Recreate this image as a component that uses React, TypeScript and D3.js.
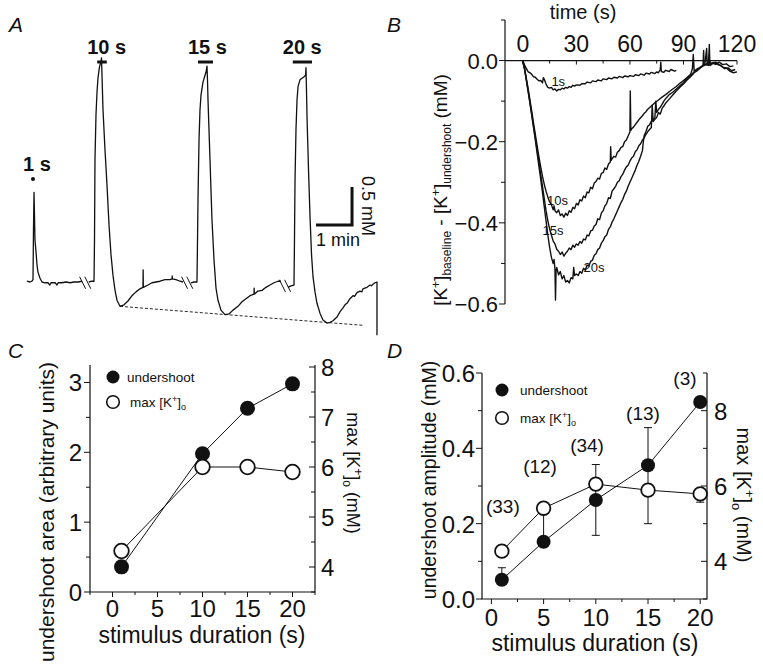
import React from "react";
import * as d3 from "d3";

const FONT = "'Liberation Sans', Arial, Helvetica, sans-serif";

// ---------------- Panel A : [K+]o trace (display time s, mM) ----------------
const traceA_1s: number[][] = [[0,3.01],[5,3.0],[8,3.01],[10,3.03],[10.8,3.68],[11.7,4.18],[12.5,3.88],[13.3,3.55],[15,3.4],[16.7,3.22],[18.3,3.13],[21.7,3.05],[25,3.0],[30,2.99],[35,2.99],[38,2.96],[40,2.99],[47,2.99],[50,2.96],[52,2.99],[58,2.99],[65,3.0],[72,2.99],[78,3.0],[85,3.0],[92,3.01]];
const traceA_10s: number[][] = [[103,3.0],[108,3.01],[111.7,3.01],[112.5,3.55],[113.3,4.61],[115,5.2],[116.7,5.5],[118.3,5.68],[120,5.79],[121.7,5.86],[123.3,5.89],[124.2,5.95],[125,5.72],[126.7,5.26],[130,4.74],[133.3,4.28],[136.7,3.75],[140,3.36],[143.3,3.09],[146.7,2.89],[150,2.76],[155,2.68],[161.7,2.7],[168.3,2.75],[175,2.82],[181.7,2.87],[188.3,2.91],[193.3,2.93],[193.6,3.16],[193.9,2.93],[201.7,2.96],[208.3,2.99],[215,3.0],[221.7,3.01],[230,3.03],[238.3,3.03],[241.7,3.04],[242,3.08],[242.3,3.04],[248.3,3.03],[255,3.01],[260,3.0]];
const traceA_15s: number[][] = [[273.3,2.99],[278.3,3.0],[283.3,3.0],[284.2,3.55],[285,4.08],[286.7,4.87],[288.3,5.26],[290,5.46],[293.3,5.63],[296.7,5.72],[298.3,5.76],[300,5.84],[300.8,5.66],[301.7,5.39],[305,4.61],[308.3,3.82],[311.7,3.29],[315,2.92],[318.3,2.76],[323.3,2.63],[330,2.57],[336.7,2.58],[343.3,2.63],[351.7,2.68],[358.3,2.74],[365,2.78],[371.7,2.82],[378.3,2.84],[378.6,2.92],[378.9,2.84],[385,2.88],[391.7,2.89],[398.3,2.93],[405,2.96],[411.7,2.99],[418.3,3.01],[423.3,3.01]];
const traceA_20s: number[][] = [[435,2.93],[440,2.95],[445,2.96],[445.8,3.55],[446.7,4.34],[448.3,5.0],[450,5.39],[451.7,5.57],[455,5.66],[458.3,5.68],[461.7,5.7],[464.2,5.72],[465,5.82],[465.8,5.53],[466.7,5.17],[469.2,4.47],[471.7,3.86],[474.2,3.36],[476.7,3.07],[480,2.87],[483.3,2.72],[488.3,2.59],[493.3,2.5],[500,2.46],[505,2.47],[510,2.49],[516.7,2.54],[521.7,2.61],[526.7,2.66],[530,2.7],[533.3,2.72],[538.3,2.78],[543.3,2.82],[546,2.81],[550,2.86],[555,2.88],[558,2.87],[560,2.91],[563,2.92],[566.7,2.93],[571.7,2.96],[574,2.95],[576.7,2.97],[580,2.99],[583.3,3.0],[583.3,2.3]];
const stimLabelsA = ["1 s", "10 s", "15 s", "20 s"];
const stimStartA = [10, 117, 285, 443];
const stimEndA = [10, 133, 310, 475];
const breaksA = [97, 267, 430];
const breakLevelA = [2.99, 2.99, 2.95];
const undershootBaselineA: number[][] = [[155, 2.68], [560, 2.43]];

// ---------------- Panel B : baseline-subtracted undershoots (s, mM) ----------------
const traceB_1s: number[][] = [[0,0],[1,-0.012],[2,-0.02],[3,-0.028],[4,-0.03],[5,-0.034],[6,-0.04],[7,-0.041],[8,-0.046],[9,-0.05],[10,-0.049],[11,-0.055],[11.5,-0.042],[12,-0.046],[13,-0.058],[14,-0.066],[15,-0.068],[16,-0.066],[17,-0.072],[18,-0.07],[19,-0.075],[20,-0.071],[21,-0.072],[22,-0.068],[23,-0.07],[24,-0.066],[25,-0.068],[26,-0.064],[27,-0.066],[28,-0.061],[29,-0.063],[30,-0.06],[32,-0.061],[33,-0.057],[35,-0.057],[36,-0.053],[38,-0.055],[39,-0.05],[41,-0.052],[42,-0.048],[44,-0.05],[45,-0.045],[47,-0.047],[48,-0.043],[50,-0.045],[51,-0.041],[53,-0.043],[54,-0.039],[56,-0.042],[57,-0.038],[59,-0.04],[60,-0.037],[62,-0.039],[63,-0.035],[65,-0.037],[66,-0.033],[68,-0.036],[69,-0.031],[71,-0.033],[72,-0.029],[74,-0.032],[75,-0.028],[76,-0.03],[77,-0.022],[77.3,-0.004],[77.6,-0.027],[79,-0.029],[80,-0.024],[82,-0.027],[83,-0.022],[85,-0.026],[86,-0.024]];
const traceB_10s: number[][] = [[0,0],[1,-0.02],[2,-0.045],[3,-0.07],[4,-0.098],[5,-0.125],[6,-0.155],[7,-0.182],[8,-0.21],[9,-0.237],[10,-0.262],[11,-0.285],[12,-0.305],[13,-0.322],[14,-0.336],[15,-0.348],[16,-0.355],[17,-0.368],[17.5,-0.358],[18,-0.37],[19,-0.375],[20,-0.368],[21,-0.382],[22,-0.378],[23,-0.386],[24,-0.376],[25,-0.382],[26,-0.37],[27,-0.374],[28,-0.362],[29,-0.365],[30,-0.352],[31,-0.356],[32,-0.343],[33,-0.346],[34,-0.334],[35,-0.338],[36,-0.324],[37,-0.326],[38,-0.312],[39,-0.316],[40,-0.302],[41,-0.298],[42,-0.29],[43,-0.292],[44,-0.278],[45,-0.276],[46,-0.265],[47,-0.268],[48,-0.255],[49,-0.25],[49.2,-0.212],[49.5,-0.246],[50,-0.242],[51,-0.236],[52,-0.238],[53,-0.226],[54,-0.222],[55,-0.214],[56,-0.212],[57,-0.2],[58,-0.196],[59,-0.186],[60,-0.176],[60.2,-0.075],[60.5,-0.172],[61,-0.168],[62,-0.164],[63,-0.158],[64,-0.152],[65,-0.146],[66,-0.141],[67,-0.136],[68,-0.13],[69,-0.126],[70,-0.12],[72,-0.112],[74,-0.104],[76,-0.097],[78,-0.09],[80,-0.084],[82,-0.077],[84,-0.07],[86,-0.064],[88,-0.056],[90,-0.049],[92,-0.042],[94,-0.034],[95,-0.02],[95.5,0.015],[96,-0.026],[98,-0.02],[100,-0.015],[102,-0.01],[104,-0.012],[106,-0.006],[108,-0.009],[110,-0.004],[112,-0.01],[114,-0.008],[116,-0.015],[118,-0.013]];
const traceB_15s: number[][] = [[0,0],[1,-0.022],[2,-0.048],[3,-0.075],[4,-0.103],[5,-0.132],[6,-0.162],[7,-0.19],[8,-0.22],[9,-0.25],[10,-0.28],[11,-0.31],[12,-0.34],[13,-0.37],[14,-0.395],[15,-0.415],[16,-0.43],[17,-0.445],[18,-0.452],[19,-0.465],[20,-0.47],[21,-0.478],[22,-0.472],[23,-0.482],[24,-0.475],[25,-0.47],[26,-0.462],[27,-0.466],[28,-0.455],[29,-0.46],[30,-0.452],[31,-0.455],[32,-0.446],[33,-0.45],[34,-0.44],[35,-0.442],[36,-0.43],[37,-0.432],[38,-0.42],[39,-0.418],[40,-0.408],[41,-0.404],[42,-0.39],[43,-0.392],[44,-0.376],[45,-0.37],[46,-0.358],[47,-0.352],[48,-0.338],[49,-0.34],[50,-0.322],[51,-0.316],[52,-0.31],[53,-0.3],[54,-0.296],[55,-0.286],[56,-0.28],[57,-0.27],[58,-0.262],[59,-0.258],[60,-0.248],[61,-0.24],[62,-0.236],[63,-0.225],[64,-0.22],[65,-0.21],[66,-0.205],[67,-0.196],[68,-0.19],[69,-0.182],[70,-0.175],[71,-0.17],[72,-0.165],[72.5,-0.11],[73,-0.15],[74,-0.145],[75,-0.14],[76,-0.128],[77,-0.132],[78,-0.118],[79,-0.112],[80,-0.105],[82,-0.095],[84,-0.085],[86,-0.075],[88,-0.066],[90,-0.058],[92,-0.048],[94,-0.04],[96,-0.03],[98,-0.024],[100,-0.016],[101,-0.01],[101.3,0.025],[101.6,-0.012],[103,-0.008],[105,-0.012],[107,-0.005],[109,-0.01],[111,-0.012],[113,-0.02],[115,-0.018],[117,-0.025],[119,-0.022]];
const traceB_20s: number[][] = [[0,0],[1,-0.022],[2,-0.05],[3,-0.078],[4,-0.106],[5,-0.136],[6,-0.166],[7,-0.196],[8,-0.228],[9,-0.26],[10,-0.292],[11,-0.325],[12,-0.36],[13,-0.395],[14,-0.43],[15,-0.46],[16,-0.485],[17,-0.5],[17.5,-0.49],[18,-0.515],[18.3,-0.59],[18.6,-0.52],[19,-0.51],[20,-0.528],[21,-0.52],[22,-0.538],[23,-0.53],[24,-0.546],[25,-0.542],[26,-0.548],[27,-0.535],[28,-0.538],[28.5,-0.51],[29,-0.53],[30,-0.526],[31,-0.53],[32,-0.52],[33,-0.524],[34,-0.512],[35,-0.516],[36,-0.504],[37,-0.506],[38,-0.495],[39,-0.492],[40,-0.48],[41,-0.476],[42,-0.466],[43,-0.462],[44,-0.45],[45,-0.444],[46,-0.434],[47,-0.43],[48,-0.416],[49,-0.41],[50,-0.398],[51,-0.39],[52,-0.38],[53,-0.37],[54,-0.36],[55,-0.35],[56,-0.342],[57,-0.33],[58,-0.322],[59,-0.31],[60,-0.3],[61,-0.29],[62,-0.28],[63,-0.27],[64,-0.258],[65,-0.248],[66,-0.236],[67,-0.222],[67.5,-0.2],[68,-0.185],[69,-0.175],[70,-0.162],[71,-0.158],[72,-0.15],[73,-0.146],[74,-0.14],[74.5,-0.1],[75,-0.128],[76,-0.12],[77,-0.115],[78,-0.108],[79,-0.1],[80,-0.094],[82,-0.084],[84,-0.078],[86,-0.07],[88,-0.062],[90,-0.054],[92,-0.044],[94,-0.036],[96,-0.028],[98,-0.022],[100,-0.016],[102,-0.01],[103,0.03],[103.3,-0.01],[104,-0.008],[104.5,0.04],[104.8,-0.008],[106,-0.006],[108,-0.004],[110,-0.01],[112,-0.016],[114,-0.018],[116,-0.026],[118,-0.03],[120,-0.028]];
const labelsB = ["1s", "10s", "15s", "20s"];
const labelPosB: number[][] = [[16, -0.062], [13.5, -0.355], [11, -0.43], [34, -0.522]];
const ticksBX = [0, 30, 60, 90, 120];
const minorBX = [15, 45, 75, 105];
const ticksBY = [0, -0.2, -0.4, -0.6];
const minorBY = [0.1, -0.1, -0.3, -0.5];

// ---------------- Panel C ----------------
const durC = [1, 10, 15, 20];
const undershootAreaC = [0.36, 1.98, 2.63, 2.98];
const maxKC = [4.32, 6.0, 6.0, 5.9];
const ticksCX = [0, 5, 10, 15, 20];
const minorCX = [-2.5, 2.5, 7.5, 12.5, 17.5, 22.5];
const ticksCL = [0, 1, 2, 3];
const minorCL = [0.5, 1.5, 2.5];
const ticksCR = [4, 5, 6, 7, 8];
const minorCR = [3.5, 4.5, 5.5, 6.5, 7.5];

// ---------------- Panel D ----------------
const durD = [1, 5, 10, 15, 20];
const undershootAmpD = [0.051, 0.152, 0.263, 0.355, 0.523];
const undershootErrUpD = [0.032, 0.075, 0.094, 0.1, 0];
const undershootErrDownD = [0, 0, 0.094, 0.155, 0];
const maxKD = [4.27, 5.41, 6.05, 5.89, 5.79];
const maxKErrDownD = [0, 0, 0, 0, 0.22];
const nLabelsD = ["(33)", "(12)", "(34)", "(13)", "(3)"];
const nLabelPosD: number[][] = [[1.1, 0.228], [4.66, 0.334], [9.16, 0.39], [14.52, 0.475], [18.54, 0.568]];
const ticksDX = [0, 5, 10, 15, 20];
const minorDX = [2.5, 7.5, 12.5, 17.5];
const ticksDL = [0, 0.2, 0.4, 0.6];
const minorDL = [0.1, 0.3, 0.5];
const ticksDR = [4, 6, 8];
const minorDR = [3, 5, 7, 9];

type Sc = d3.ScaleLinear<number, number>;

function KLabel({ size, sub, tail }: { size: number; sub: number; tail?: string }) {
  return (
    <>
      {"max [K"}
      <tspan fontSize={sub} dy={-size * 0.38}>+</tspan>
      <tspan dy={size * 0.38}>]</tspan>
      <tspan fontSize={sub} dy={size * 0.25}>o</tspan>
      {tail ? <tspan dy={-size * 0.25}>{tail}</tspan> : null}
    </>
  );
}

export default function App() {
  // scales
  const xA = d3.scaleLinear().domain([0, 600]).range([27, 387]);
  const yA = d3.scaleLinear().domain([2.5, 6]).range([320, 54]);
  const xB = d3.scaleLinear().domain([-10, 120]).range([505, 737]);
  const yB = d3.scaleLinear().domain([-0.6, 0.1]).range([304, 20]);
  const xC = d3.scaleLinear().domain([-2.5, 22.5]).range([90, 315]);
  const yCL = d3.scaleLinear().domain([0, 3.25]).range([592, 365]);
  const yCR = d3.scaleLinear().domain([3.5, 8.04]).range([592, 365]);
  const xD = d3.scaleLinear().domain([-0.9, 20.65]).range([482, 707]);
  const yDL = d3.scaleLinear().domain([0, 0.6]).range([599, 373]);
  const yDR = d3.scaleLinear().domain([3, 9]).range([599, 373]);

  const mk = (xs: Sc, ys: Sc) => d3.line<number[]>().x((d) => xs(d[0])).y((d) => ys(d[1]));
  const lineA = mk(xA, yA);
  const lineB = mk(xB, yB);

  const ink = "#111";

  // ----- Panel A -----
  const barY = 62;
  const dotY = 179;
  const sbT = 541.7; // scale bar corner (display s)
  const sbC = 3.75; // scale bar corner (mM)

  const panelA = (
    <g>
      <text x={9} y={32} fontSize={21} fontStyle="italic">A</text>
      {[traceA_1s, traceA_10s, traceA_15s, traceA_20s].map((tr, i) => (
        <path key={i} d={lineA(tr) || ""} fill="none" stroke={ink} strokeWidth={1.3} strokeLinejoin="round" />
      ))}
      <path d={lineA(undershootBaselineA) || ""} fill="none" stroke={ink} strokeWidth={0.9} strokeDasharray="3,2" />
      {breaksA.map((b, i) => (
        <g key={i} stroke={ink} strokeWidth={1}>
          {[-2.6, 2.6].map((o, j) => (
            <line key={j} x1={xA(b) + o - 3} y1={yA(breakLevelA[i]) - 6} x2={xA(b) + o + 3} y2={yA(breakLevelA[i]) + 6} />
          ))}
        </g>
      ))}
      {stimLabelsA.map((lab, i) => {
        const isDot = stimStartA[i] === stimEndA[i];
        const my = isDot ? dotY : barY;
        return (
          <g key={i}>
            {isDot ? (
              <circle cx={xA(stimStartA[i])} cy={my} r={2} fill={ink} />
            ) : (
              <line x1={xA(stimStartA[i])} x2={xA(stimEndA[i])} y1={my} y2={my} stroke={ink} strokeWidth={3} />
            )}
            <text x={xA(stimStartA[i]) - 10} y={my - 8} fontSize={20} fontWeight="bold">{lab}</text>
          </g>
        );
      })}
      {/* scale bar */}
      <path
        d={`M${xA(sbT - 60)},${yA(sbC)}H${xA(sbT)}V${yA(sbC + 0.5)}`}
        fill="none"
        stroke={ink}
        strokeWidth={3}
      />
      <text x={xA(sbT - 60)} y={yA(sbC) + 21} fontSize={18}>1 min</text>
      <text transform={`translate(${xA(sbT) + 10},${yA(sbC + 0.25)}) rotate(90)`} textAnchor="middle" fontSize={18}>0.5 mM</text>
    </g>
  );

  // ----- Panel B -----
  const panelB = (
    <g>
      <text x={387} y={32} fontSize={21} fontStyle="italic">B</text>
      <text x={583} y={19} fontSize={20} textAnchor="middle">time (s)</text>
      <line x1={xB(-10)} x2={xB(120)} y1={yB(0)} y2={yB(0)} stroke={ink} strokeWidth={1.2} />
      <line x1={xB(-10)} x2={xB(-10)} y1={yB(0.1)} y2={yB(-0.6)} stroke={ink} strokeWidth={1.2} />
      {ticksBX.map((t) => (
        <g key={t}>
          <line x1={xB(t)} x2={xB(t)} y1={yB(0)} y2={yB(0) + 4} stroke={ink} />
          <text x={xB(t)} y={52} fontSize={23} textAnchor="middle">{t}</text>
        </g>
      ))}
      {minorBX.map((t) => (
        <line key={t} x1={xB(t)} x2={xB(t)} y1={yB(0)} y2={yB(0) + 3} stroke={ink} />
      ))}
      {ticksBY.map((v) => (
        <g key={v}>
          <line x1={xB(-10) - 6} x2={xB(-10)} y1={yB(v)} y2={yB(v)} stroke={ink} />
          <text x={498} y={yB(v) + 8} fontSize={22} textAnchor="end">{v === 0 ? "0.0" : d3.format(".1f")(v)}</text>
        </g>
      ))}
      {minorBY.map((v) => (
        <line key={v} x1={xB(-10) - 4} x2={xB(-10)} y1={yB(v)} y2={yB(v)} stroke={ink} />
      ))}
      {[traceB_1s, traceB_10s, traceB_15s, traceB_20s].map((tr, i) => (
        <path key={i} d={lineB(tr) || ""} fill="none" stroke={ink} strokeWidth={1.4} strokeLinejoin="round" />
      ))}
      {labelsB.map((l, i) => (
        <text key={l} x={xB(labelPosB[i][0])} y={yB(labelPosB[i][1])} fontSize={13}>{l}</text>
      ))}
      <text transform="translate(447,190) rotate(-90)" textAnchor="middle" fontSize={19}>
        [K<tspan fontSize={12} dy={-7}>+</tspan><tspan dy={7}>]</tspan>
        <tspan fontSize={12} dy={4}>baseline</tspan>
        <tspan dy={-4}> - [K</tspan><tspan fontSize={12} dy={-7}>+</tspan><tspan dy={7}>]</tspan>
        <tspan fontSize={12} dy={4}>undershoot</tspan>
        <tspan dy={-4}> (mM)</tspan>
      </text>
    </g>
  );

  // ----- Panel C -----
  const lineCL = d3.line<number>().x((d, i) => xC(durC[i])).y((d) => yCL(d));
  const lineCR = d3.line<number>().x((d, i) => xC(durC[i])).y((d) => yCR(d));
  const panelC = (
    <g>
      <text x={8} y={358} fontSize={21} fontStyle="italic">C</text>
      <path d={`M${xC(-2.5)},${yCL(3.25)}V${yCL(0)}H${xC(22.5)}V${yCL(3.25)}`} fill="none" stroke={ink} strokeWidth={1.2} />
      {ticksCX.map((t) => (
        <g key={t}>
          <line x1={xC(t)} x2={xC(t)} y1={yCL(0)} y2={yCL(0) + 5} stroke={ink} />
          <text x={xC(t)} y={617} fontSize={24} textAnchor="middle">{t}</text>
        </g>
      ))}
      {minorCX.map((t) => (
        <line key={t} x1={xC(t)} x2={xC(t)} y1={yCL(0)} y2={yCL(0) + 3} stroke={ink} />
      ))}
      {ticksCL.map((v) => (
        <g key={v}>
          <line x1={xC(-2.5) - 6} x2={xC(-2.5)} y1={yCL(v)} y2={yCL(v)} stroke={ink} />
          <text x={82} y={yCL(v) + 9} fontSize={24} textAnchor="end">{v}</text>
        </g>
      ))}
      {minorCL.map((v) => (
        <line key={v} x1={xC(-2.5) - 4} x2={xC(-2.5)} y1={yCL(v)} y2={yCL(v)} stroke={ink} />
      ))}
      {ticksCR.map((v) => (
        <g key={v}>
          <line x1={xC(22.5) - 6} x2={xC(22.5)} y1={yCR(v)} y2={yCR(v)} stroke={ink} />
          <text x={321} y={yCR(v) + 9} fontSize={24}>{v}</text>
        </g>
      ))}
      {minorCR.map((v) => (
        <line key={v} x1={xC(22.5) - 4} x2={xC(22.5)} y1={yCR(v)} y2={yCR(v)} stroke={ink} />
      ))}
      <path d={lineCL(undershootAreaC) || ""} fill="none" stroke={ink} strokeWidth={1} />
      <path d={lineCR(maxKC) || ""} fill="none" stroke={ink} strokeWidth={1} />
      {undershootAreaC.map((v, i) => (
        <circle key={i} cx={xC(durC[i])} cy={yCL(v)} r={7.5} fill={ink} />
      ))}
      {maxKC.map((v, i) => (
        <circle key={i} cx={xC(durC[i])} cy={yCR(v)} r={7.3} fill="#fff" stroke={ink} strokeWidth={1.8} />
      ))}
      <circle cx={113} cy={377} r={6.5} fill={ink} />
      <text x={127} y={382} fontSize={13.5}>undershoot</text>
      <circle cx={113} cy={402} r={6.3} fill="#fff" stroke={ink} strokeWidth={1.6} />
      <text x={130} y={407} fontSize={13.5}><KLabel size={13.5} sub={9} /></text>
      <text transform="translate(54,512) rotate(-90)" textAnchor="middle" fontSize={21}>undershoot area (arbitrary units)</text>
      <text transform="translate(347,473) rotate(90)" textAnchor="middle" fontSize={18}><KLabel size={18} sub={12} tail=" (mM)" /></text>
      <text x={202} y={643} fontSize={23} textAnchor="middle">stimulus duration (s)</text>
    </g>
  );

  // ----- Panel D -----
  const lineDL = d3.line<number>().x((d, i) => xD(durD[i])).y((d) => yDL(d));
  const lineDR = d3.line<number>().x((d, i) => xD(durD[i])).y((d) => yDR(d));
  const panelD = (
    <g>
      <text x={387} y={358} fontSize={21} fontStyle="italic">D</text>
      <path d={`M${xD(-0.9)},${yDL(0.6)}V${yDL(0)}H${xD(20.65)}V${yDL(0.6)}`} fill="none" stroke={ink} strokeWidth={1.2} />
      {ticksDX.map((t) => (
        <g key={t}>
          <line x1={xD(t)} x2={xD(t)} y1={yDL(0)} y2={yDL(0) + 5} stroke={ink} />
          <text x={xD(t)} y={626} fontSize={24} textAnchor="middle">{t}</text>
        </g>
      ))}
      {minorDX.map((t) => (
        <line key={t} x1={xD(t)} x2={xD(t)} y1={yDL(0)} y2={yDL(0) + 3} stroke={ink} />
      ))}
      {ticksDL.map((v) => (
        <g key={v}>
          <line x1={xD(-0.9) - 6} x2={xD(-0.9)} y1={yDL(v)} y2={yDL(v)} stroke={ink} />
          <text x={475} y={yDL(v) + 9} fontSize={24} textAnchor="end">{d3.format(".1f")(v)}</text>
        </g>
      ))}
      {minorDL.map((v) => (
        <line key={v} x1={xD(-0.9) - 4} x2={xD(-0.9)} y1={yDL(v)} y2={yDL(v)} stroke={ink} />
      ))}
      {ticksDR.map((v) => (
        <g key={v}>
          <line x1={xD(20.65) - 6} x2={xD(20.65)} y1={yDR(v)} y2={yDR(v)} stroke={ink} />
          <text x={714} y={yDR(v) + 9} fontSize={24}>{v}</text>
        </g>
      ))}
      {minorDR.map((v) => (
        <line key={v} x1={xD(20.65) - 4} x2={xD(20.65)} y1={yDR(v)} y2={yDR(v)} stroke={ink} />
      ))}
      <path d={lineDL(undershootAmpD) || ""} fill="none" stroke={ink} strokeWidth={1} />
      <path d={lineDR(maxKD) || ""} fill="none" stroke={ink} strokeWidth={1} />
      {undershootAmpD.map((v, i) => {
        const x = xD(durD[i]);
        const up = undershootErrUpD[i];
        const dn = undershootErrDownD[i];
        return (
          <g key={i} stroke={ink} strokeWidth={1}>
            {up > 0 && (
              <>
                <line x1={x} x2={x} y1={yDL(v)} y2={yDL(v + up)} />
                <line x1={x - 4} x2={x + 4} y1={yDL(v + up)} y2={yDL(v + up)} />
              </>
            )}
            {dn > 0 && (
              <>
                <line x1={x} x2={x} y1={yDL(v)} y2={yDL(v - dn)} />
                <line x1={x - 4} x2={x + 4} y1={yDL(v - dn)} y2={yDL(v - dn)} />
              </>
            )}
          </g>
        );
      })}
      {maxKD.map((v, i) => {
        const x = xD(durD[i]);
        const dn = maxKErrDownD[i];
        return dn > 0 ? (
          <g key={i} stroke={ink} strokeWidth={1}>
            <line x1={x} x2={x} y1={yDR(v)} y2={yDR(v - dn)} />
            <line x1={x - 4} x2={x + 4} y1={yDR(v - dn)} y2={yDR(v - dn)} />
          </g>
        ) : null;
      })}
      {undershootAmpD.map((v, i) => (
        <circle key={i} cx={xD(durD[i])} cy={yDL(v)} r={7} fill={ink} />
      ))}
      {maxKD.map((v, i) => (
        <circle key={i} cx={xD(durD[i])} cy={yDR(v)} r={6.8} fill="#fff" stroke={ink} strokeWidth={1.8} />
      ))}
      {nLabelsD.map((l, i) => (
        <text key={l} x={xD(nLabelPosD[i][0])} y={yDL(nLabelPosD[i][1])} fontSize={19} textAnchor="middle">{l}</text>
      ))}
      <circle cx={502} cy={390} r={6.5} fill={ink} />
      <text x={520} y={395} fontSize={13.5}>undershoot</text>
      <circle cx={502} cy={418} r={6.3} fill="#fff" stroke={ink} strokeWidth={1.6} />
      <text x={520} y={423} fontSize={13.5}><KLabel size={13.5} sub={9} /></text>
      <text transform="translate(436,480) rotate(-90)" textAnchor="middle" fontSize={19.5}>undershoot amplitude (mM)</text>
      <text transform="translate(737,495) rotate(90)" textAnchor="middle" fontSize={20}><KLabel size={20} sub={13} tail=" (mM)" /></text>
      <text x={595} y={651} fontSize={23} textAnchor="middle">stimulus duration (s)</text>
    </g>
  );

  return (
    <svg
      width={763}
      height={671}
      viewBox="0 0 763 671"
      style={{ position: "absolute", left: 0, top: 0, background: "#fff" }}
      fontFamily={FONT}
      fill={ink}
    >
      <rect x={0} y={0} width={763} height={671} fill="#fff" />
      {panelA}
      {panelB}
      {panelC}
      {panelD}
    </svg>
  );
}
